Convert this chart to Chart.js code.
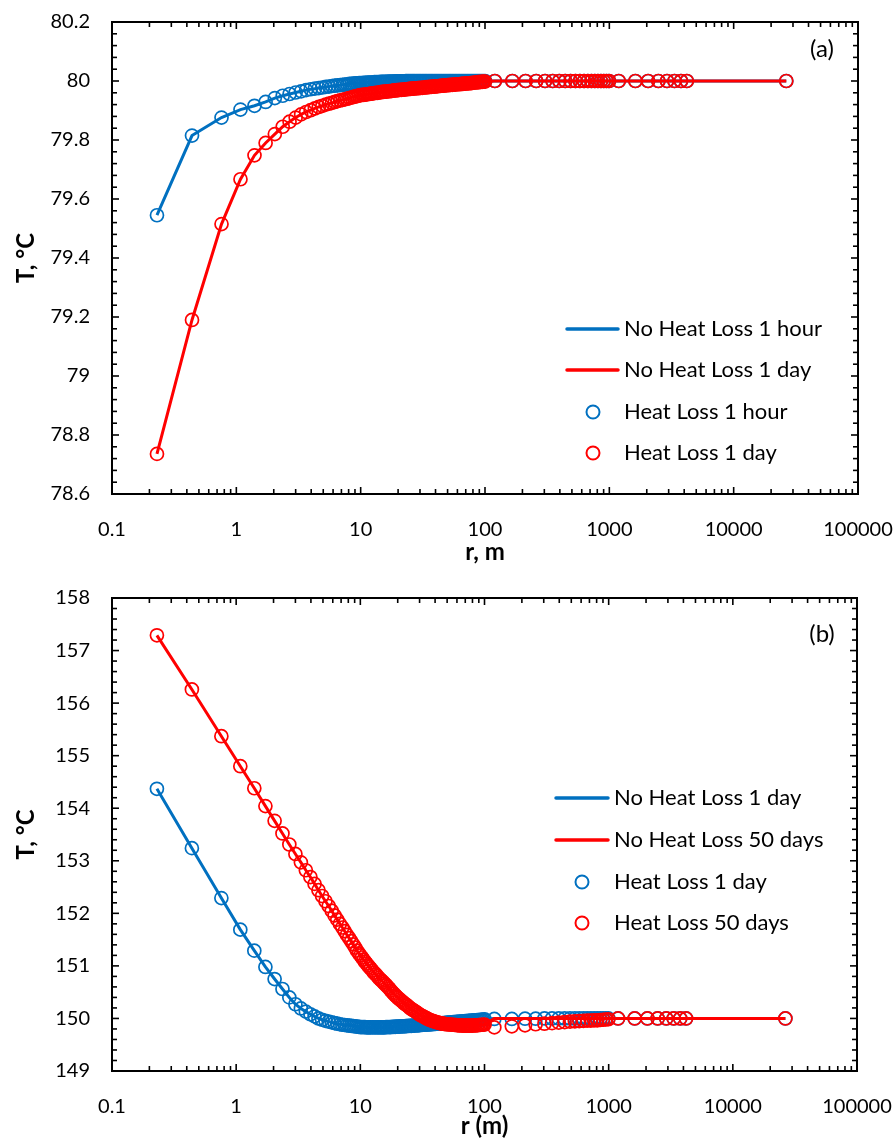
<!DOCTYPE html>
<html><head><meta charset="utf-8">
<script src="https://cdn.jsdelivr.net/npm/chart.js@4/dist/chart.umd.min.js"></script>
<style>
html,body{margin:0;padding:0;background:#fff;width:896px;height:1138px;overflow:hidden;}
canvas{display:block;position:absolute;left:0;}
#c1{top:0;}
#c2{top:567px;}
</style></head><body>
<canvas id="c1" width="896" height="567"></canvas>
<canvas id="c2" width="896" height="571"></canvas>
<script>
// ---------------- DATA ----------------
const radius = [
  // near well, spacing ~0.32 m
  0.23, 0.44, 0.76, 1.08, 1.40, 1.72, 2.04, 2.36, 2.68, 3.00, 3.32, 3.64, 3.96, 4.28, 4.60, 4.92,
  5.24, 5.56, 5.88, 6.20, 6.52, 6.84, 7.16, 7.48, 7.80, 8.12, 8.44, 8.76, 9.08, 9.40, 9.72,
  // 10 - 100 m
  10.0, 10.3, 10.6, 10.9, 11.2, 11.5, 11.8, 12.1, 12.5, 12.9, 13.3, 13.7,
  14.1, 14.5, 14.9, 15.3, 15.7, 16.1, 16.6, 17.1, 17.6, 18.1, 18.6, 19.1,
  19.6, 20.1, 20.7, 21.3, 21.9, 22.5, 23.1, 23.7, 24.4, 25.1, 25.8, 26.5,
  27.2, 28.0, 28.8, 29.6, 30.4, 31.3, 32.2, 33.1, 34.0, 35.0, 36.0, 37.0,
  38.0, 39.1, 40.2, 41.3, 42.5, 43.7, 44.9, 46.2, 47.5, 48.8, 50.2, 51.6,
  53.0, 54.5, 56.0, 57.6, 59.2, 60.9, 62.6, 64.4, 66.2, 68.0, 69.9, 71.9,
  73.9, 76.0, 78.1, 80.3, 82.6, 84.9, 87.3, 89.7, 92.2, 94.8, 97.5, 100.2,
  // far field
  120, 166, 212, 258, 304, 350, 396, 442, 488, 534, 580, 626, 672, 718, 764, 810, 856, 902, 948, 994,
  1190, 1620, 2050, 2480, 2910, 3340, 3770, 4200,
  26500
];

// (a) Heat Loss 1 hour (also No Heat Loss 1 hour)
const tempA_1hour = [
  79.545, 79.815, 79.876, 79.903, 79.916, 79.929, 79.942, 79.950, 79.956, 79.961, 79.965, 79.969,
  79.972, 79.974, 79.976, 79.978, 79.980, 79.981, 79.983, 79.984, 79.985, 79.986, 79.987, 79.988,
  79.989, 79.990, 79.990, 79.991, 79.992, 79.992, 79.993,
  79.993, 79.993, 79.994, 79.994, 79.994, 79.995, 79.995, 79.995, 79.995, 79.996, 79.996, 79.996,
  79.996, 79.997, 79.997, 79.997, 79.997, 79.997, 79.998, 79.998, 79.998, 79.998, 79.998, 79.999,
  79.999, 79.999, 79.999, 79.999, 79.999, 79.999,
  80, 80, 80, 80, 80, 80, 80, 80, 80, 80, 80, 80, 80, 80, 80, 80, 80, 80,
  80, 80, 80, 80, 80, 80, 80, 80, 80, 80, 80, 80, 80, 80, 80, 80, 80, 80,
  80, 80, 80, 80, 80, 80, 80, 80, 80, 80, 80, 80, 80, 80, 80, 80, 80, 80,
  80, 80, 80, 80, 80, 80, 80, 80, 80, 80, 80, 80, 80, 80, 80, 80, 80, 80, 80, 80,
  80, 80, 80, 80, 80, 80, 80, 80,
  80
];

// (a) Heat Loss 1 day (also No Heat Loss 1 day)
const tempA_1day = [
  78.736, 79.190, 79.515, 79.667, 79.748, 79.790, 79.820, 79.845, 79.862, 79.876, 79.887, 79.895,
  79.901, 79.907, 79.912, 79.916, 79.920, 79.923, 79.926, 79.929, 79.932, 79.934, 79.936, 79.938,
  79.940, 79.942, 79.944, 79.946, 79.948, 79.949, 79.951,
  79.952, 79.953, 79.953, 79.954, 79.955, 79.956, 79.956, 79.957, 79.958, 79.959, 79.960, 79.960,
  79.961, 79.962, 79.963, 79.963, 79.964, 79.964, 79.965, 79.966, 79.966, 79.967, 79.968, 79.968,
  79.969, 79.969, 79.970, 79.970, 79.971, 79.971, 79.972, 79.972, 79.973, 79.973, 79.974, 79.974,
  79.975, 79.975, 79.976, 79.976, 79.977, 79.977, 79.978, 79.978, 79.979, 79.979, 79.980, 79.980,
  79.981, 79.981, 79.982, 79.982, 79.983, 79.983, 79.984, 79.984, 79.985, 79.985, 79.986, 79.986,
  79.987, 79.987, 79.988, 79.988, 79.989, 79.989, 79.989, 79.990, 79.990, 79.991, 79.991, 79.992,
  79.992, 79.993, 79.993, 79.994, 79.995, 79.995, 79.996, 79.996, 79.997, 79.997, 79.998, 79.998,
  80, 80, 80, 80, 80, 80, 80, 80, 80, 80, 80, 80, 80, 80, 80, 80, 80, 80, 80, 80,
  80, 80, 80, 80, 80, 80, 80, 80,
  80
];

// (b) Heat Loss 1 day
const tempB_1day = [
  154.37, 153.24, 152.29, 151.69, 151.29, 150.98, 150.75, 150.56, 150.40,
  150.27, 150.19, 150.13, 150.08, 150.04, 150.00, 149.975, 149.955, 149.94, 149.925, 149.91,
  149.90, 149.89, 149.88, 149.875, 149.87, 149.865, 149.86, 149.855, 149.85, 149.845, 149.84,
  149.835, 149.835, 149.835, 149.835, 149.83, 149.83, 149.83, 149.83, 149.83, 149.83, 149.83, 149.83,
  149.83, 149.83, 149.83, 149.83, 149.83, 149.835, 149.835, 149.835, 149.835, 149.84, 149.84, 149.84,
  149.845, 149.845, 149.845, 149.85, 149.85, 149.85, 149.855, 149.855, 149.86, 149.86, 149.86, 149.865,
  149.865, 149.87, 149.87, 149.87, 149.875, 149.875, 149.88, 149.88, 149.88, 149.885, 149.885, 149.89,
  149.89, 149.895, 149.895, 149.90, 149.90, 149.905, 149.905, 149.91, 149.91, 149.915, 149.92, 149.92,
  149.925, 149.925, 149.93, 149.93, 149.935, 149.935, 149.94, 149.94, 149.945, 149.945, 149.95, 149.95,
  149.955, 149.955, 149.96, 149.96, 149.965, 149.965, 149.97, 149.97, 149.975, 149.975, 149.98, 149.985,
  149.99, 149.99, 149.995, 149.995, 150, 150, 150, 150, 150, 150, 150, 150, 150, 150, 150, 150,
  150, 150, 150, 150,
  150, 150, 150, 150, 150, 150, 150, 150,
  150
];

// (b) Heat Loss 50 days
const tempB_50days = [
  157.29, 156.26, 155.37, 154.80, 154.38, 154.04, 153.76, 153.52, 153.31, 153.13, 152.97, 152.82,
  152.69, 152.56, 152.44, 152.33, 152.23, 152.14, 152.05, 151.96, 151.88, 151.80, 151.73, 151.66,
  151.59, 151.53, 151.47, 151.41, 151.35, 151.29, 151.24,
  151.20, 151.16, 151.12, 151.08, 151.045, 151.01, 150.98, 150.95, 150.91, 150.87, 150.84, 150.805,
  150.77, 150.74, 150.715, 150.69, 150.66, 150.635, 150.60, 150.57, 150.53, 150.50, 150.47, 150.44,
  150.415, 150.39, 150.365, 150.34, 150.315, 150.29, 150.27, 150.25, 150.225, 150.20, 150.18, 150.16,
  150.145, 150.125, 150.105, 150.085, 150.065, 150.05, 150.035, 150.02, 150.005, 149.99, 149.975, 149.965,
  149.955, 149.945, 149.935, 149.925, 149.92, 149.91, 149.905, 149.90, 149.895, 149.89, 149.89, 149.885,
  149.885, 149.88, 149.88, 149.875, 149.875, 149.87, 149.87, 149.87, 149.865, 149.865, 149.865, 149.865,
  149.865, 149.865, 149.865, 149.865, 149.87, 149.87, 149.87, 149.875, 149.875, 149.88, 149.88, 149.885,
  149.83, 149.85, 149.87, 149.89, 149.90, 149.91, 149.92, 149.93, 149.94, 149.945, 149.95, 149.955,
  149.96, 149.96, 149.965, 149.965, 149.97, 149.975, 149.98, 149.985,
  150, 150, 150, 150, 150, 150, 150, 150,
  150
];

// (b) No Heat Loss values beyond r = 100 m (both curves)
const tempB_noLossTail = [
  150, 150, 150, 150, 150, 150, 150, 150, 150, 150, 150, 150, 150, 150, 150, 150, 150, 150, 150, 150,
  150, 150, 150, 150, 150, 150, 150, 150,
  150
];

const xTickValues = [0.1, 1, 10, 100, 1000, 10000, 100000];
const xTickLabels = ['0.1', '1', '10', '100', '1000', '10000', '100000'];
const yTickValuesA = [78.6, 78.8, 79, 79.2, 79.4, 79.6, 79.8, 80, 80.2];
const yTickLabelsA = ['78.6', '78.8', '79', '79.2', '79.4', '79.6', '79.8', '80', '80.2'];
const yTickValuesB = [149, 150, 151, 152, 153, 154, 155, 156, 157, 158];
const yTickLabelsB = ['149', '150', '151', '152', '153', '154', '155', '156', '157', '158'];

// ---------------- STYLE / PLUGINS ----------------
const BLUE = '#0070C0';
const RED = '#FF0000';
Chart.defaults.font.family = 'Lato, "Open Sans", sans-serif';
Chart.defaults.color = '#000';

const pts = (ys) => radius.map((r, i) => ({ x: r, y: ys[i] }));
const ptsTail = (ys, tail) => {
  const n = radius.length - tail.length;
  return radius.map((r, i) => ({ x: r, y: i < n ? ys[i] : tail[i - n] }));
};

const frameTicks = {
  id: 'frameTicks',
  afterDraw(chart, args, o) {
    const { ctx, chartArea: a, scales: { x, y } } = chart;
    ctx.save();
    ctx.strokeStyle = '#000';
    ctx.lineCap = 'butt';
    const seg = (x1, y1, x2, y2) => { ctx.beginPath(); ctx.moveTo(x1, y1); ctx.lineTo(x2, y2); ctx.stroke(); };
    ctx.lineWidth = 1.6;
    for (let e = -1; e <= 4; e++) {
      for (let k = 1; k <= 9; k++) {
        const v = k * Math.pow(10, e);
        const px = x.getPixelForValue(v);
        const len = k === 1 ? 7 : 5;
        seg(px, a.bottom, px, a.bottom - len);
        seg(px, a.top, px, a.top + len);
      }
    }
    const n = Math.round((o.max - o.min) / o.minor);
    for (let i = 0; i <= n; i++) {
      const v = o.min + i * o.minor;
      const py = y.getPixelForValue(v);
      const len = (i % o.per === 0) ? 7 : 5;
      seg(a.left, py, a.left + len, py);
      seg(a.right, py, a.right - len, py);
    }
    ctx.lineWidth = 2;
    ctx.strokeRect(a.left, a.top, a.right - a.left, a.bottom - a.top);
    ctx.restore();
  }
};

const customLegend = {
  id: 'customLegend',
  afterDraw(chart, args, o) {
    const ctx = chart.ctx;
    ctx.save();
    ctx.font = o.font;
    ctx.fillStyle = '#000';
    ctx.textBaseline = 'middle';
    ctx.textAlign = 'left';
    o.items.forEach(it => {
      if (it.kind === 'line') {
        ctx.strokeStyle = it.color; ctx.lineWidth = 3.5; ctx.lineCap = 'round';
        ctx.beginPath(); ctx.moveTo(o.lineX1, it.y); ctx.lineTo(o.lineX2, it.y); ctx.stroke();
      } else {
        ctx.strokeStyle = it.color; ctx.lineWidth = 2;
        ctx.beginPath(); ctx.arc(o.markX, it.y, 6.5, 0, Math.PI * 2); ctx.stroke();
      }
      ctx.fillText(it.text, o.textX, it.y);
    });
    ctx.font = o.tagFont;
    ctx.textAlign = 'center';
    ctx.fillText(o.tag, o.tagX, o.tagY);
    ctx.restore();
  }
};

function lineDs(label, data, color, order) {
  return { label, data, borderColor: color, borderWidth: 3, pointRadius: 0, showLine: true,
           fill: false, tension: 0, order };
}
function markDs(label, data, color, order) {
  return { label, data, borderColor: color, backgroundColor: 'rgba(0,0,0,0)', showLine: false,
           pointRadius: 6.5, pointBorderWidth: 1.7, pointBorderColor: color,
           pointBackgroundColor: 'rgba(0,0,0,0)', pointStyle: 'circle', order };
}

function makeChart(id, cfg) {
  return new Chart(document.getElementById(id), {
    type: 'line',
    data: { datasets: cfg.datasets },
    plugins: [frameTicks, customLegend],
    options: {
      responsive: false, animation: false, devicePixelRatio: 1,
      layout: { padding: { left: 0, right: cfg.padRight, top: cfg.padTop, bottom: 0 } },
      plugins: {
        legend: { display: false }, tooltip: { enabled: false },
        frameTicks: cfg.frame,
        customLegend: cfg.legend
      },
      scales: {
        x: {
          type: 'logarithmic', min: 0.1, max: 100000,
          grid: { display: false, drawTicks: false }, border: { display: false },
          afterBuildTicks: s => { s.ticks = xTickValues.map(v => ({ value: v })); },
          ticks: { autoSkip: false, maxRotation: 0, minRotation: 0, padding: 24,
                   font: { size: 20 }, color: '#000',
                   callback: (v, i) => xTickLabels[i] },
          title: { display: true, text: cfg.xTitle, color: '#000',
                   font: { size: 24, weight: 'bold' }, padding: { top: 0, bottom: cfg.xTitlePad } },
          afterFit: s => { s.height = cfg.xHeight; s.paddingLeft = 0; s.paddingRight = 0; }
        },
        y: {
          type: 'linear', min: cfg.yMin, max: cfg.yMax,
          grid: { display: false, drawTicks: false }, border: { display: false },
          afterBuildTicks: s => { s.ticks = cfg.yVals.map(v => ({ value: v })); },
          ticks: { autoSkip: false, padding: 22, font: { size: 20 }, color: '#000',
                   callback: (v, i) => cfg.yLabels[i] },
          title: { display: true, text: 'T, °C', color: '#000',
                   font: { size: 24, weight: 'bold' }, padding: { top: 12, bottom: 0 } },
          afterFit: s => { s.width = 112; s.paddingTop = 0; s.paddingBottom = 0; }
        }
      }
    }
  });
}

// ---------------- CHART (a) ----------------
makeChart('c1', {
  padTop: 22, padRight: 38, xHeight: 73, xTitlePad: 0, xTitle: 'r, m',
  yMin: 78.6, yMax: 80.2, yVals: yTickValuesA, yLabels: yTickLabelsA,
  frame: { min: 78.6, max: 80.2, minor: 0.04, per: 5 },
  datasets: [
    lineDs('No Heat Loss 1 hour', pts(tempA_1hour), BLUE, 4),
    markDs('Heat Loss 1 hour', pts(tempA_1hour), BLUE, 3),
    lineDs('No Heat Loss 1 day', pts(tempA_1day), RED, 2),
    markDs('Heat Loss 1 day', pts(tempA_1day), RED, 1)
  ],
  legend: {
    font: '22px Lato', tagFont: '24px Lato', tag: '(a)', tagX: 822, tagY: 49,
    lineX1: 567, lineX2: 618, markX: 593, textX: 624,
    items: [
      { kind: 'line', color: BLUE, text: 'No Heat Loss 1 hour', y: 329 },
      { kind: 'line', color: RED, text: 'No Heat Loss 1 day', y: 370 },
      { kind: 'mark', color: BLUE, text: 'Heat Loss 1 hour', y: 412 },
      { kind: 'mark', color: RED, text: 'Heat Loss 1 day', y: 453 }
    ]
  }
});

// ---------------- CHART (b) ----------------
const OFF = 567;
makeChart('c2', {
  padTop: 598 - OFF, padRight: 39, xHeight: 571 - (1071 - OFF), xTitlePad: -3, xTitle: 'r (m)',
  yMin: 149, yMax: 158, yVals: yTickValuesB, yLabels: yTickLabelsB,
  frame: { min: 149, max: 158, minor: 0.2, per: 5 },
  datasets: [
    lineDs('No Heat Loss 1 day', ptsTail(tempB_1day, tempB_noLossTail), BLUE, 4),
    markDs('Heat Loss 1 day', pts(tempB_1day), BLUE, 3),
    lineDs('No Heat Loss 50 days', ptsTail(tempB_50days, tempB_noLossTail), RED, 2),
    markDs('Heat Loss 50 days', pts(tempB_50days), RED, 1)
  ],
  legend: {
    font: '22px Lato', tagFont: '24px Lato', tag: '(b)', tagX: 822, tagY: 634 - OFF,
    lineX1: 556, lineX2: 608, markX: 582, textX: 614,
    items: [
      { kind: 'line', color: BLUE, text: 'No Heat Loss 1 day', y: 798 - OFF },
      { kind: 'line', color: RED, text: 'No Heat Loss 50 days', y: 840 - OFF },
      { kind: 'mark', color: BLUE, text: 'Heat Loss 1 day', y: 882 - OFF },
      { kind: 'mark', color: RED, text: 'Heat Loss 50 days', y: 923 - OFF }
    ]
  }
});
</script>
</body></html>
